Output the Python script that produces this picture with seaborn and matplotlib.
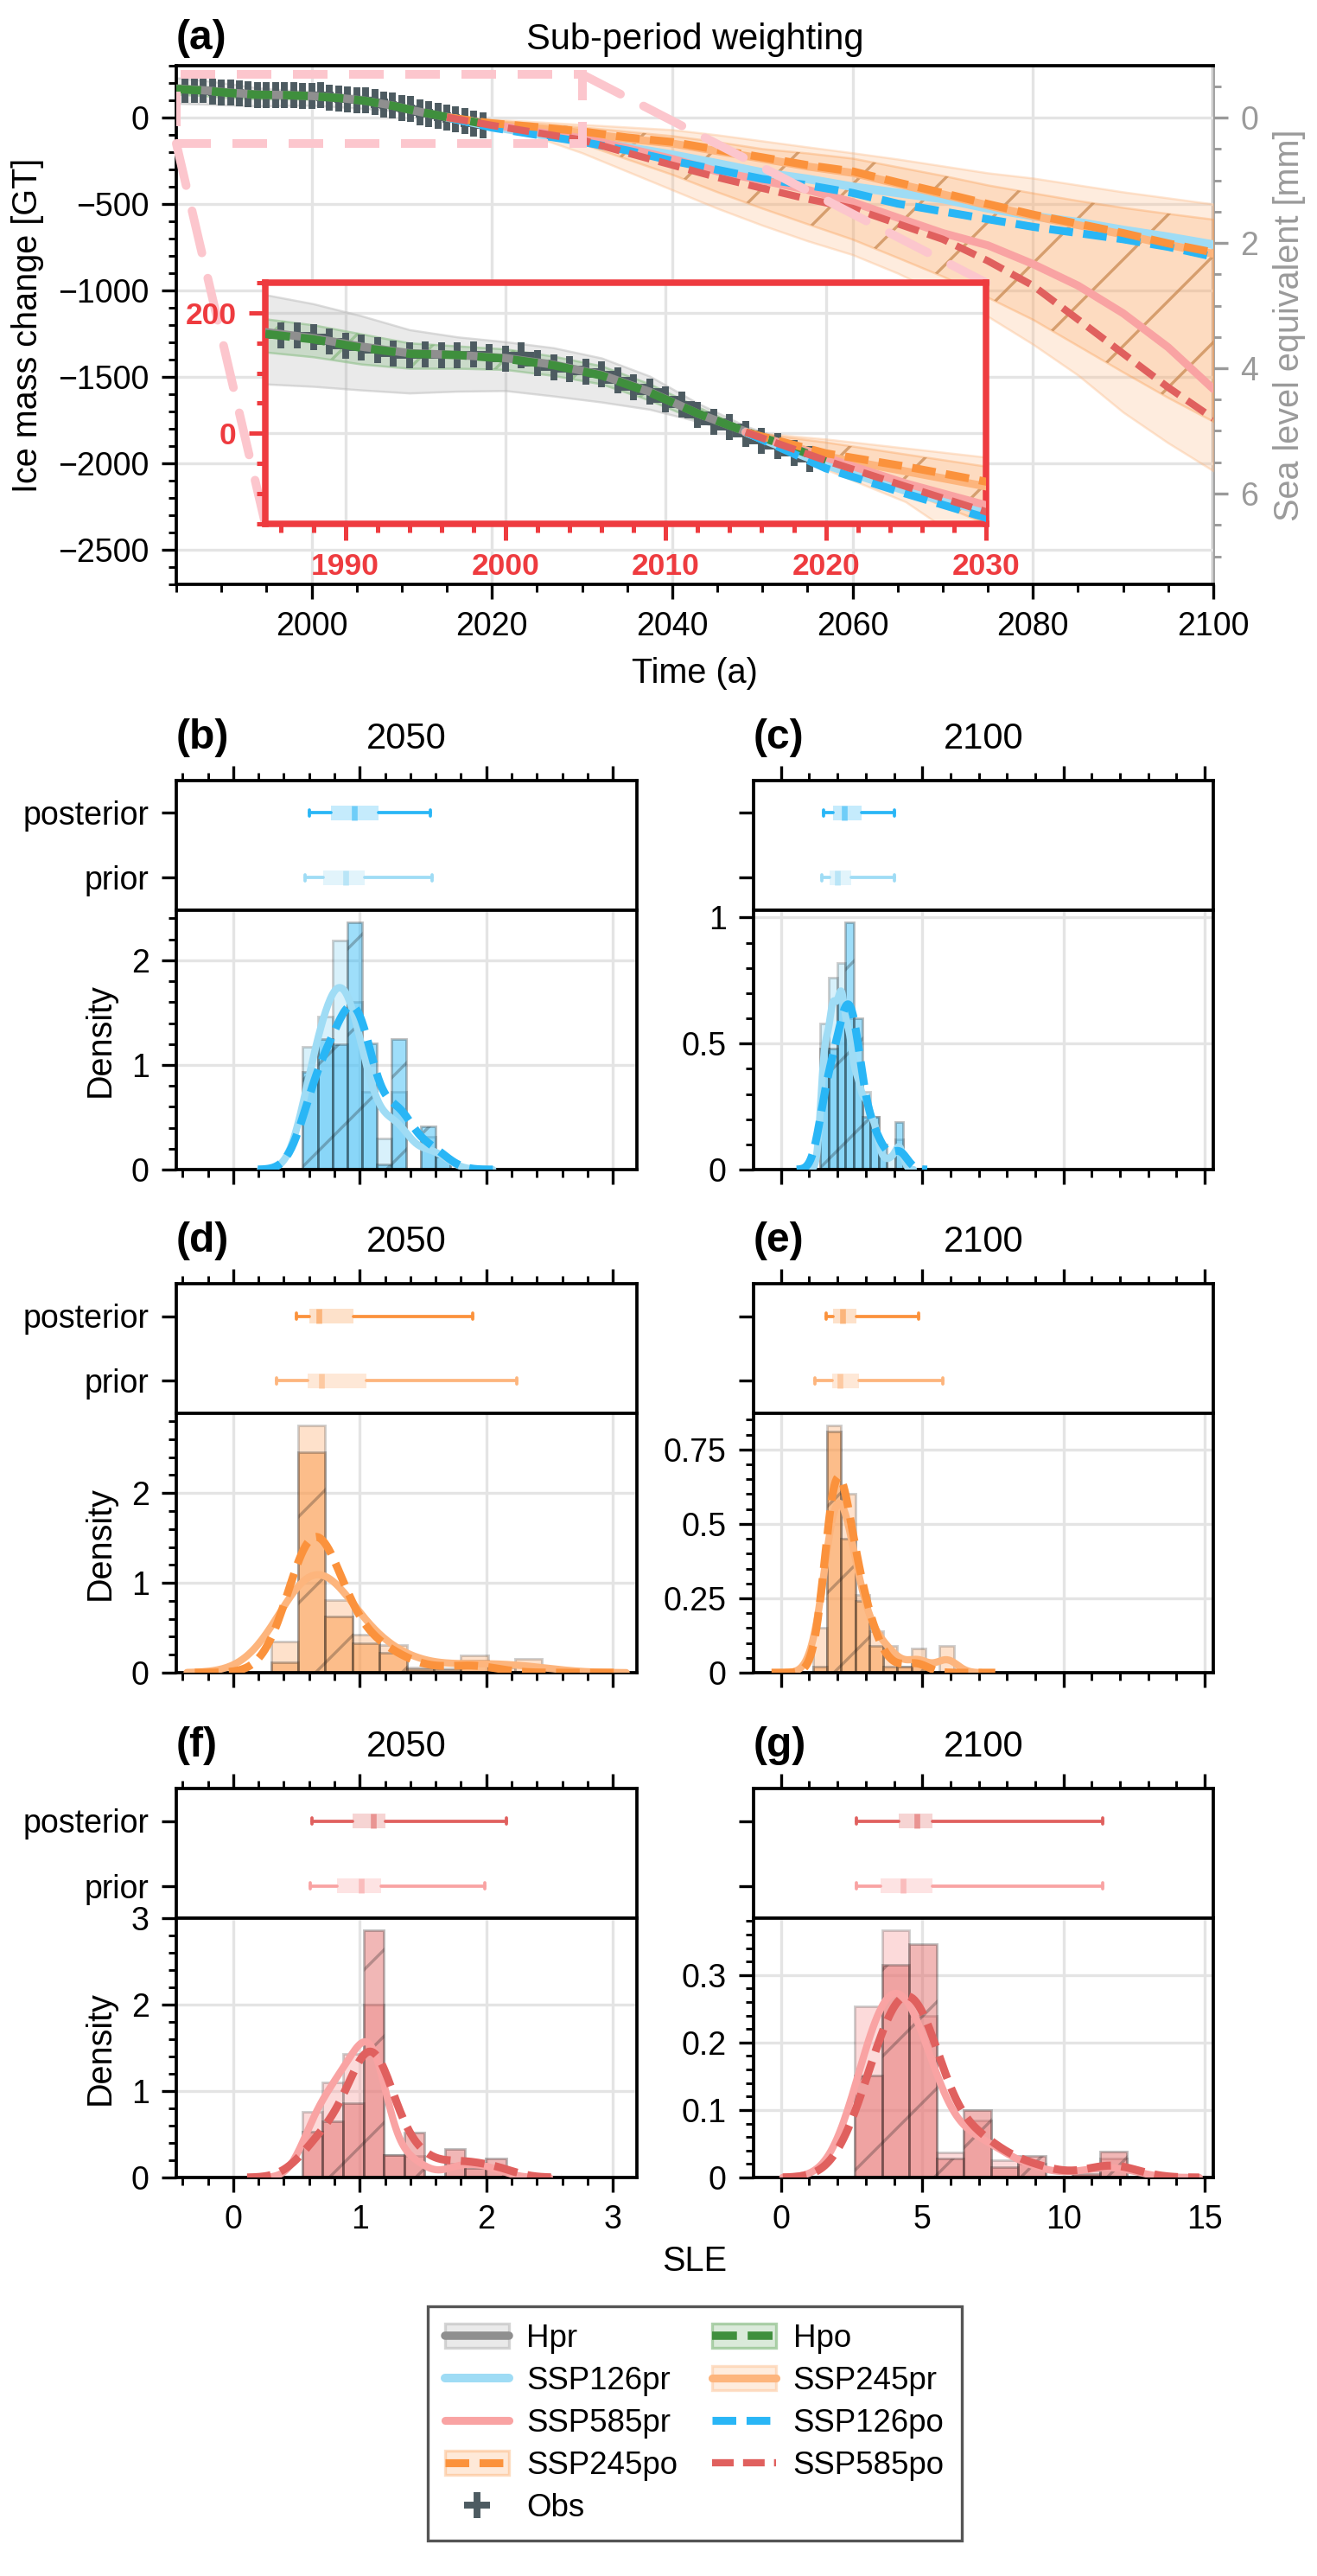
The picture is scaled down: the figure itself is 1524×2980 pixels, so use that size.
import numpy as np
import matplotlib
matplotlib.use("Agg")
import matplotlib.pyplot as plt
import seaborn as sns
from matplotlib.patches import Rectangle, ConnectionPatch, Patch
from matplotlib.lines import Line2D
from matplotlib.ticker import MultipleLocator, FuncFormatter
from matplotlib.colors import to_rgba

# ------------------------------------------------------------------ data
hist_years = [1985, 1988, 1991, 1994, 1997, 2000, 2003, 2006, 2009, 2012, 2015, 2018, 2020]
hpr_mean = [168, 158, 144, 133, 130, 125, 114, 97, 69, 33, 3, -25, -45]
hpr_low = [82, 78, 72, 67, 70, 71, 62, 52, 40, 20, -3, -32, -55]
hpr_high = [230, 215, 195, 172, 160, 152, 142, 125, 95, 50, 12, -15, -35]
hpo_mean = [165, 156, 142, 132, 130, 124, 113, 96, 68, 33, 3, -25, -45]
hpo_low = [135, 127, 115, 108, 108, 106, 96, 82, 55, 22, -2, -30, -50]
hpo_high = [190, 180, 165, 150, 145, 140, 128, 112, 82, 44, 8, -20, -40]

obs_years = list(range(1986, 2020))
obs_vals = [162, 162, 160, 152, 145, 143, 138, 133, 129, 131, 129, 129, 131, 126, 124, 129,
            117, 110, 107, 102, 98, 88, 76, 69, 57, 48, 31, 19, 10, -1, -12, -21, -33, -43]

proj_years = [2015, 2020, 2025, 2030, 2035, 2040, 2045, 2050, 2055, 2060,
              2065, 2070, 2075, 2080, 2085, 2090, 2095, 2100]
ssp126_pr = [2, -52, -95, -130, -172, -215, -265, -318, -355, -400, -436, -471, -525, -570, -605, -650, -690, -735]
ssp126_po = [2, -58, -100, -140, -190, -250, -302, -355, -391, -436, -498, -543, -588, -632, -668, -704, -748, -805]
ssp245_pr = [2, -38, -63, -88, -123, -150, -194, -238, -283, -320, -383, -444, -508, -569, -622, -676, -736, -788]
ssp245_po = [2, -33, -55, -80, -115, -141, -186, -230, -275, -311, -375, -436, -500, -561, -614, -668, -728, -780]
ssp585_pr = [2, -40, -83, -119, -177, -239, -311, -364, -418, -489, -579, -668, -739, -847, -972, -1132, -1329, -1570]
ssp585_po = [2, -45, -88, -130, -204, -275, -346, -409, -471, -525, -614, -704, -829, -972, -1168, -1365, -1561, -1740]
ssp245_pr_low = [2, -60, -114, -204, -311, -418, -525, -623, -713, -793, -900, -1025, -1150, -1311, -1490, -1704, -1882, -2043]
ssp245_pr_high = [2, -10, -25, -40, -55, -70, -100, -135, -170, -204, -240, -280, -320, -350, -390, -430, -465, -500]
ssp245_po_low = [2, -50, -95, -150, -240, -329, -430, -525, -615, -704, -810, -918, -1040, -1168, -1320, -1472, -1620, -1757]
ssp245_po_high = [2, -15, -35, -55, -80, -105, -140, -180, -205, -235, -285, -335, -390, -436, -480, -520, -555, -588]

# histogram panels: bin edges, prior / posterior densities, box stats [min, q1, med, q3, max]
b_edges = [0.550, 0.667, 0.783, 0.900, 1.016, 1.133, 1.249, 1.366, 1.482, 1.599, 1.715]
b_prior = [1.17, 1.46, 2.19, 1.60, 0.74, 0.30, 0.74, 0.00, 0.31, 0.12]
b_post = [0.93, 1.25, 1.20, 2.36, 1.21, 0.05, 1.25, 0.00, 0.41, 0.12]
b_box_prior = [0.57, 0.71, 0.89, 1.04, 1.57]
b_box_post = [0.60, 0.77, 0.96, 1.15, 1.56]

c_edges = [1.40, 1.69, 1.99, 2.28, 2.57, 2.87, 3.16, 3.45, 3.74, 4.04, 4.33]
c_prior = [0.58, 0.76, 0.82, 0.60, 0.40, 0.31, 0.21, 0.05, 0.05, 0.12]
c_post = [0.48, 0.48, 0.67, 0.98, 0.60, 0.21, 0.21, 0.10, 0.00, 0.19]
c_box_prior = [1.44, 1.71, 1.99, 2.49, 4.02]
c_box_post = [1.50, 1.85, 2.25, 2.84, 4.02]

d_edges = [0.301, 0.514, 0.728, 0.942, 1.156, 1.370, 1.584, 1.798, 2.012, 2.226, 2.440]
d_prior = [0.35, 2.75, 0.81, 0.42, 0.31, 0.06, 0.05, 0.19, 0.06, 0.15]
d_post = [0.12, 2.45, 0.63, 0.33, 0.22, 0.04, 0.03, 0.13, 0.00, 0.00]
d_box_prior = [0.34, 0.59, 0.70, 1.05, 2.24]
d_box_post = [0.50, 0.60, 0.68, 0.95, 1.89]

e_edges = [1.13, 1.63, 2.13, 2.63, 3.13, 3.63, 4.12, 4.62, 5.12, 5.62, 6.12]
e_prior = [0.15, 0.83, 0.60, 0.26, 0.14, 0.09, 0.02, 0.08, 0.00, 0.09]
e_post = [0.02, 0.81, 0.45, 0.24, 0.09, 0.02, 0.02, 0.04, 0.00, 0.00]
e_box_prior = [1.19, 1.82, 2.08, 2.77, 5.74]
e_box_post = [1.61, 1.85, 2.19, 2.68, 4.87]

f_edges = [0.546, 0.707, 0.868, 1.029, 1.190, 1.351, 1.512, 1.673, 1.834, 1.995, 2.156]
f_prior = [0.76, 1.10, 1.43, 2.00, 0.26, 0.25, 0.00, 0.16, 0.17, 0.11]
f_post = [0.53, 0.65, 0.86, 2.86, 0.26, 0.52, 0.00, 0.33, 0.11, 0.22]
f_box_prior = [0.61, 0.82, 1.01, 1.17, 1.99]
f_box_post = [0.62, 0.94, 1.11, 1.20, 2.16]

g_edges = [2.62, 3.58, 4.55, 5.51, 6.47, 7.44, 8.40, 9.36, 10.32, 11.29, 12.25]
g_prior = [0.254, 0.366, 0.240, 0.037, 0.085, 0.026, 0.020, 0.000, 0.010, 0.028]
g_post = [0.151, 0.315, 0.346, 0.028, 0.100, 0.015, 0.032, 0.000, 0.005, 0.038]
g_box_prior = [2.68, 3.53, 4.31, 5.37, 11.39]
g_box_post = [2.68, 4.17, 4.80, 5.37, 11.39]

GT_PER_MM = 362.5

# ------------------------------------------------------------------ style
sns.set_theme(style="ticks")
plt.rcParams["font.family"] = ["Liberation Sans", "DejaVu Sans"]
plt.rcParams.update({
    "font.size": 9, "axes.labelsize": 9.5, "axes.titlesize": 10,
    "xtick.labelsize": 9, "ytick.labelsize": 9,
    "axes.linewidth": 0.9, "axes.edgecolor": "black",
    "xtick.major.size": 4, "ytick.major.size": 4,
    "xtick.minor.size": 2.2, "ytick.minor.size": 2.2,
    "xtick.major.width": 0.8, "ytick.major.width": 0.8,
    "xtick.minor.width": 0.7, "ytick.minor.width": 0.7,
    "xtick.direction": "out", "ytick.direction": "out",
    "xtick.color": "black", "ytick.color": "black",
    "text.color": "black", "axes.labelcolor": "black",
    "hatch.linewidth": 0.8, "legend.fontsize": 9,
})

C = {
    "hpr": "#8f8f8f", "hpo": "#3f8f3d", "obs": "#4d5b61",
    "126pr": "#9fdcf5", "126po": "#29b6f6",
    "245pr": "#fdb57d", "245po": "#fb923c",
    "585pr": "#f9a3a3", "585po": "#e0605e",
}
RED = "#ee3b3f"
PINK = "#fcc6cd"
GRAY = "#9a9a9a"
DASH = (0, (3.0, 1.3))
gfmt = FuncFormatter(lambda v, p: f"{v:g}".replace("-", "\u2212"))

W, H = 1524, 2980
fig = plt.figure(figsize=(W / 300, H / 300), dpi=300)


def draw_ts(a):
    a.fill_between(hist_years, hpr_low, hpr_high, facecolor=to_rgba("#999999", 0.2),
                   edgecolor=to_rgba("#bbbbbb", 0.5), linewidth=0.6, zorder=1)
    a.fill_between(hist_years, hpo_low, hpo_high, facecolor=to_rgba("#4a9a46", 0.2),
                   edgecolor=to_rgba("#8fc08a", 0.6), linewidth=0.6, zorder=1.2)
    a.fill_between(hist_years, hpo_low, hpo_high, facecolor="none",
                   edgecolor=to_rgba("#7fb477", 0.6), linewidth=0, hatch="/", zorder=1.3)
    a.fill_between(proj_years, ssp245_pr_low, ssp245_pr_high, facecolor=to_rgba(C["245pr"], 0.25),
                   edgecolor=to_rgba(C["245pr"], 0.35), linewidth=0.6, zorder=1)
    a.fill_between(proj_years, ssp245_po_low, ssp245_po_high, facecolor=to_rgba(C["245po"], 0.18),
                   edgecolor=to_rgba(C["245po"], 0.3), linewidth=0.6, zorder=1.1)
    a.fill_between(proj_years, ssp245_po_low, ssp245_po_high, facecolor="none",
                   edgecolor=to_rgba("#c98a52", 0.75), linewidth=0, hatch="/", zorder=1.15)
    sns.lineplot(x=obs_years, y=obs_vals, ax=a, marker="+", linestyle="", color=C["obs"],
                 markersize=7, markeredgewidth=1.9, markeredgecolor=C["obs"], legend=False, zorder=2)
    sns.lineplot(x=hist_years, y=hpr_mean, ax=a, color=C["hpr"], linewidth=2.3, legend=False, zorder=3)
    sns.lineplot(x=hist_years, y=hpo_mean, ax=a, color=C["hpo"], linewidth=2.3, linestyle=DASH,
                 legend=False, zorder=3.1)
    sns.lineplot(x=proj_years, y=ssp126_pr, ax=a, color=C["126pr"], linewidth=2.4, legend=False, zorder=3)
    sns.lineplot(x=proj_years, y=ssp245_pr, ax=a, color=C["245pr"], linewidth=2.2, legend=False, zorder=3)
    sns.lineplot(x=proj_years, y=ssp585_pr, ax=a, color=C["585pr"], linewidth=2.2, legend=False, zorder=3)
    sns.lineplot(x=proj_years, y=ssp126_po, ax=a, color=C["126po"], linewidth=2.2, linestyle=DASH,
                 legend=False, zorder=3.2)
    sns.lineplot(x=proj_years, y=ssp245_po, ax=a, color=C["245po"], linewidth=2.2, linestyle=DASH,
                 legend=False, zorder=3.2)
    sns.lineplot(x=proj_years, y=ssp585_po, ax=a, color=C["585po"], linewidth=2.0, linestyle=DASH,
                 legend=False, zorder=3.2)
    a.set_xlabel("")
    a.set_ylabel("")


# ------------------------------------------------------------------ panel (a)
ax = fig.add_axes([204 / W, 1 - 676 / H, 1200 / W, 600 / H])
draw_ts(ax)
ax.set_xlim(1985, 2100)
ax.set_ylim(-2700, 300)
ax.xaxis.set_major_locator(MultipleLocator(20))
ax.xaxis.set_minor_locator(MultipleLocator(5))
ax.yaxis.set_major_locator(MultipleLocator(500))
ax.yaxis.set_minor_locator(MultipleLocator(100))
ax.tick_params(which="both", top=False, right=False)
ax.grid(True, which="major", color="#e4e4e4", linewidth=0.8)
ax.set_axisbelow(True)
ax.spines["right"].set_visible(False)
ax.set_xlabel("Time (a)")
ax.set_ylabel("Ice mass change [GT]")
ax.set_title("(a)", loc="left", fontweight="bold", fontsize=11.5, pad=4.5, y=1.0)
ax.set_title("Sub-period weighting", loc="center", fontsize=10, pad=4.5, y=1.0)

sec = ax.secondary_yaxis("right", functions=(lambda g: -np.asarray(g) / GT_PER_MM,
                                             lambda s: -np.asarray(s) * GT_PER_MM))
sec.yaxis.set_major_locator(MultipleLocator(2))
sec.yaxis.set_minor_locator(MultipleLocator(0.5))
sec.tick_params(axis="y", which="both", colors=GRAY)
sec.spines["right"].set_color(GRAY)
sec.set_ylabel("Sea level equivalent [mm]", color=GRAY)

# inset
ax_in = ax.inset_axes([0.0858, 0.1167, 0.695, 0.465])
ax_in.set_facecolor("white")
draw_ts(ax_in)
ax_in.set_xlim(1985, 2030)
ax_in.set_ylim(-150, 250)
ax_in.xaxis.set_major_locator(MultipleLocator(10))
ax_in.xaxis.set_minor_locator(MultipleLocator(2))
ax_in.yaxis.set_major_locator(MultipleLocator(200))
ax_in.yaxis.set_minor_locator(MultipleLocator(50))
ax_in.grid(True, which="major", color="#e4e4e4", linewidth=0.8)
ax_in.set_axisbelow(True)
for sp in ax_in.spines.values():
    sp.set_color(RED)
    sp.set_linewidth(1.8)
ax_in.tick_params(which="both", colors=RED, width=1.2, labelsize=8.5)
ax_in.tick_params(which="major", length=4.5)
ax_in.tick_params(which="minor", length=2.5)
plt.setp(ax_in.get_xticklabels() + ax_in.get_yticklabels(), fontweight="bold")

rect = Rectangle((1985, -150), 45, 400, fill=False, edgecolor=PINK, linewidth=2.4,
                 linestyle=(0, (4, 2.5)), zorder=4)
ax.add_patch(rect)
for xyA, xyB in [((1985, -150), (0, 0)), ((2030, 250), (1, 1))]:
    con = ConnectionPatch(xyA=xyA, coordsA=ax.transData, xyB=xyB, coordsB=ax_in.transAxes,
                          color=PINK, linewidth=2.4, linestyle=(0, (5, 3)), zorder=4)
    ax.add_artist(con)

# ------------------------------------------------------------------ panels (b)-(g)
panels = [
    ("(b)", "2050", b_edges, b_prior, b_post, b_box_prior, b_box_post, "126", 0, 0, 1, 0.2, 0.59, 0.62),
    ("(c)", "2100", c_edges, c_prior, c_post, c_box_prior, c_box_post, "126", 0, 1, 0.5, 0.1, 0.30, 0.59),
    ("(d)", "2050", d_edges, d_prior, d_post, d_box_prior, d_box_post, "245", 1, 0, 1, 0.2, 0.63, 0.58),
    ("(e)", "2100", e_edges, e_prior, e_post, e_box_prior, e_box_post, "245", 1, 1, 0.25, 0.05, 0.43, 0.6),
    ("(f)", "2050", f_edges, f_prior, f_post, f_box_prior, f_box_post, "585", 2, 0, 1, 0.2, 0.46, 0.56),
    ("(g)", "2100", g_edges, g_prior, g_post, g_box_prior, g_box_post, "585", 2, 1, 0.1, 0.02, 0.55, 0.55),
]
row_tops = [903, 1485, 2069]
col_x = [(204, 533), (872, 532)]
col_xlim = [(-0.45, 3.19), (-0.97, 15.3)]
col_xmaj = [(1, 0.2), (5, 1)]


def draw_box(axb, s5, pos, fc, mc, wc):
    st = dict(whislo=s5[0], q1=s5[1], med=s5[2], q3=s5[3], whishi=s5[4], fliers=[])
    kw = dict(positions=[pos], widths=0.23, patch_artist=True, showfliers=False, manage_ticks=False,
              boxprops=dict(facecolor=fc, edgecolor="none", linewidth=0),
              medianprops=dict(color=mc, linewidth=1.6, solid_capstyle="butt"),
              whiskerprops=dict(color=wc, linewidth=0.9),
              capprops=dict(color=wc, linewidth=0.9), capwidths=0.09)
    try:
        axb.bxp([st], orientation="horizontal", **kw)
    except TypeError:
        axb.bxp([st], vert=False, **kw)


for (abc, ttl, edges, prh, poh, boxpr, boxpo, ssp, r, cidx, ymaj, ymin, bwpr, bwpo) in panels:
    x0, w = col_x[cidx]
    T = row_tops[r]
    axb = fig.add_axes([x0 / W, 1 - (T + 150) / H, w / W, 150 / H])
    axh = fig.add_axes([x0 / W, 1 - (T + 450) / H, w / W, 300 / H])
    cpr, cpo = C[ssp + "pr"], C[ssp + "po"]

    # box panel
    draw_box(axb, boxpr, 0, to_rgba(cpr, 0.3), to_rgba(cpr, 0.6), cpr)
    draw_box(axb, boxpo, 1, to_rgba(cpo, 0.27), to_rgba(cpo, 0.55), cpo)
    axb.set_ylim(-0.5, 1.5)
    axb.set_yticks([0, 1])
    if cidx == 0:
        axb.set_yticklabels(["prior", "posterior"])
    else:
        axb.set_yticklabels(["", ""])
    axb.set_xlim(*col_xlim[cidx])
    axb.xaxis.set_major_locator(MultipleLocator(col_xmaj[cidx][0]))
    axb.xaxis.set_minor_locator(MultipleLocator(col_xmaj[cidx][1]))
    axb.tick_params(axis="x", which="both", top=True, bottom=False, labeltop=False, labelbottom=False)
    axb.tick_params(axis="y", which="both", right=False)
    axb.set_title(abc, loc="left", fontweight="bold", fontsize=11.5, pad=9, y=1.0)
    axb.set_title(ttl, loc="center", fontsize=10, pad=9, y=1.0)

    # histogram panel
    centers = [(edges[i] + edges[i + 1]) / 2 for i in range(len(prh))]
    sns.histplot(x=centers, weights=prh, bins=edges, stat="count", ax=axh, color=cpr, alpha=0.4,
                 edgecolor=(0.15, 0.15, 0.15, 0.22), linewidth=0.7, zorder=2)
    sns.histplot(x=centers, weights=poh, bins=edges, stat="count", ax=axh, color=cpo, alpha=0.45,
                 edgecolor=(0.1, 0.1, 0.1, 0.28), linewidth=0.7, hatch="/", zorder=2.1)
    sns.kdeplot(x=centers, weights=prh, bw_adjust=bwpr, ax=axh, color=cpr, linewidth=2.0, zorder=3)
    sns.kdeplot(x=centers, weights=poh, bw_adjust=bwpo, ax=axh, color=cpo, linewidth=2.2,
                linestyle=DASH, zorder=3.1)
    axh.set_xlim(*col_xlim[cidx])
    axh.set_ylim(0, 1.05 * max(max(prh), max(poh)))
    axh.xaxis.set_major_locator(MultipleLocator(col_xmaj[cidx][0]))
    axh.xaxis.set_minor_locator(MultipleLocator(col_xmaj[cidx][1]))
    axh.yaxis.set_major_locator(MultipleLocator(ymaj))
    axh.yaxis.set_minor_locator(MultipleLocator(ymin))
    axh.xaxis.set_major_formatter(gfmt)
    axh.yaxis.set_major_formatter(gfmt)
    axh.tick_params(axis="x", which="both", top=False, bottom=True, labelbottom=(r == 2))
    axh.tick_params(axis="y", which="both", right=False)
    axh.grid(True, which="major", color="#e4e4e4", linewidth=0.8)
    axh.set_axisbelow(True)
    axh.set_xlabel("")
    axh.set_ylabel("Density" if cidx == 0 else "")

fig.text(804 / W, 1 - 2616 / H, "SLE", ha="center", va="center", fontsize=9.5)

# ------------------------------------------------------------------ legend
def band(fc, ec):
    return Patch(facecolor=fc, edgecolor=ec, linewidth=0.8)


handles = [
    (band(to_rgba("#999999", 0.2), to_rgba("#bbbbbb", 0.6)), Line2D([], [], color=C["hpr"], lw=2.3)),
    Line2D([], [], color=C["126pr"], lw=2.4),
    Line2D([], [], color=C["585pr"], lw=2.2),
    (band(to_rgba(C["245po"], 0.2), to_rgba(C["245po"], 0.3)),
     Line2D([], [], color=C["245po"], lw=2.2, linestyle=DASH)),
    Line2D([], [], color=C["obs"], marker="+", linestyle="", markersize=7, markeredgewidth=1.9),
    (band(to_rgba("#4a9a46", 0.2), to_rgba("#8fc08a", 0.7)),
     Line2D([], [], color=C["hpo"], lw=2.3, linestyle=DASH)),
    (band(to_rgba(C["245pr"], 0.25), to_rgba(C["245pr"], 0.4)), Line2D([], [], color=C["245pr"], lw=2.2)),
    Line2D([], [], color=C["126po"], lw=2.2, linestyle=DASH),
    Line2D([], [], color=C["585po"], lw=2.0, linestyle=DASH),
]
labels = ["Hpr", "SSP126pr", "SSP585pr", "SSP245po", "Obs",
          "Hpo", "SSP245pr", "SSP126po", "SSP585po"]
leg = fig.legend(handles, labels, loc="upper center", bbox_to_anchor=(804 / W, 1 - 2668 / H),
                 ncol=2, frameon=True, fancybox=False, edgecolor="#555555", framealpha=1,
                 borderpad=0.55, labelspacing=0.38, handlelength=2.0, handleheight=0.8,
                 handletextpad=0.55, columnspacing=1.1, borderaxespad=0, fontsize=8.8)
leg.get_frame().set_linewidth(0.8)

fig.savefig("out.png", dpi=300)
